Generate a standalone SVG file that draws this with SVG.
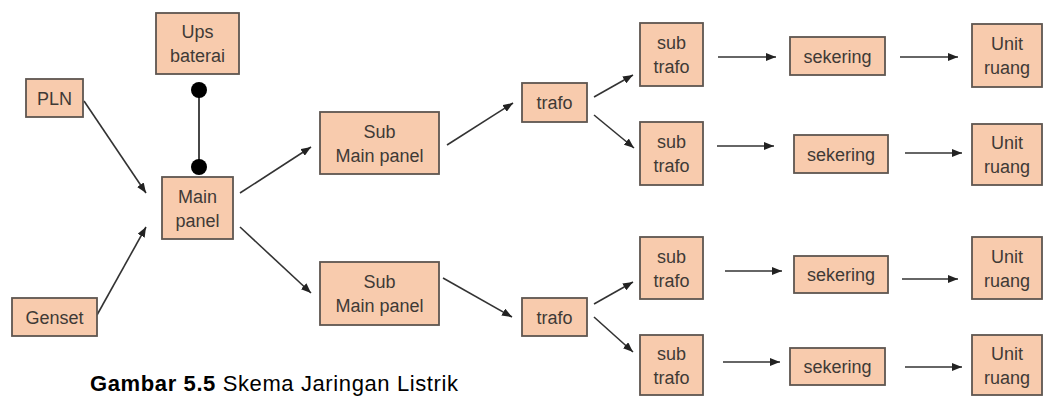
<svg xmlns="http://www.w3.org/2000/svg" width="1044" height="397" viewBox="0 0 1044 397">
<style>
.box{fill:#F8CBAD;stroke:#5E5650;stroke-width:1.8}
.t{font-family:"Liberation Sans",Arial,sans-serif;font-size:18px;fill:#3F3A36;text-anchor:middle}
.c{stroke:#333;stroke-width:1.6;fill:none;marker-end:url(#ah)}
.cap{font-family:"Liberation Sans",Arial,sans-serif;font-size:22px;fill:#000}
</style>
<defs>
<marker id="ah" markerUnits="userSpaceOnUse" markerWidth="11" markerHeight="8" refX="10" refY="4" orient="auto">
<path d="M0,0 L10,4 L0,8 z" fill="#222"/>
</marker>
</defs>
<rect width="1044" height="397" fill="#fff"/>
<g id="connectors">
<line class="c" x1="84" y1="101" x2="146" y2="193"/>
<line class="c" x1="97" y1="315" x2="146" y2="227"/>
<line class="c" x1="240" y1="193" x2="311" y2="147"/>
<line class="c" x1="240" y1="227" x2="311" y2="293"/>
<line class="c" x1="447" y1="145" x2="513" y2="103"/>
<line class="c" x1="443" y1="278" x2="512" y2="317"/>
<line class="c" x1="594" y1="97" x2="633" y2="75"/>
<line class="c" x1="594" y1="115" x2="634" y2="148"/>
<line class="c" x1="594" y1="304" x2="633" y2="282"/>
<line class="c" x1="594" y1="317" x2="633" y2="352"/>
<line class="c" x1="718" y1="57" x2="776" y2="57"/>
<line class="c" x1="900" y1="57" x2="958" y2="57"/>
<line class="c" x1="717" y1="146" x2="774" y2="146"/>
<line class="c" x1="905" y1="153" x2="962" y2="153"/>
<line class="c" x1="725" y1="271" x2="782" y2="271"/>
<line class="c" x1="902" y1="279" x2="958" y2="279"/>
<line class="c" x1="723" y1="362" x2="780" y2="362"/>
<line class="c" x1="905" y1="367" x2="962" y2="367"/>
<line x1="199" y1="90" x2="199" y2="167" stroke="#333" stroke-width="1.8"/>
<circle cx="199" cy="90" r="8" fill="#000"/>
<circle cx="199" cy="167" r="8" fill="#000"/>
</g>
<g id="ups"><rect class="box" x="156" y="13" width="83" height="61"/><text class="t" x="197.5" y="38">Ups</text><text class="t" x="197.5" y="62">baterai</text></g>
<g id="pln"><rect class="box" x="26" y="79" width="57" height="38"/><text class="t" x="54.5" y="104.5">PLN</text></g>
<g id="genset"><rect class="box" x="12" y="298" width="85" height="38"/><text class="t" x="54.5" y="323.5">Genset</text></g>
<g id="main"><rect class="box" x="162" y="177" width="71" height="62"/><text class="t" x="197.5" y="202.5">Main</text><text class="t" x="197.5" y="226.5">panel</text></g>
<g id="sub1"><rect class="box" x="320" y="112" width="119" height="62"/><text class="t" x="379.5" y="137.5">Sub</text><text class="t" x="379.5" y="161.5">Main panel</text></g>
<g id="sub2"><rect class="box" x="320" y="262" width="119" height="63"/><text class="t" x="379.5" y="288">Sub</text><text class="t" x="379.5" y="312">Main panel</text></g>
<g id="trafo1"><rect class="box" x="522" y="83" width="65" height="39"/><text class="t" x="554.5" y="109">trafo</text></g>
<g id="trafo2"><rect class="box" x="522" y="298" width="65" height="38"/><text class="t" x="554.5" y="323.5">trafo</text></g>
<g id="st1"><rect class="box" x="640" y="23" width="63" height="63"/><text class="t" x="671.5" y="49">sub</text><text class="t" x="671.5" y="73">trafo</text></g>
<g id="st2"><rect class="box" x="640" y="122" width="63" height="63"/><text class="t" x="671.5" y="148">sub</text><text class="t" x="671.5" y="172">trafo</text></g>
<g id="st3"><rect class="box" x="640" y="237" width="63" height="62"/><text class="t" x="671.5" y="262.5">sub</text><text class="t" x="671.5" y="286.5">trafo</text></g>
<g id="st4"><rect class="box" x="640" y="335" width="63" height="60"/><text class="t" x="671.5" y="359.5">sub</text><text class="t" x="671.5" y="383.5">trafo</text></g>
<g id="sk1"><rect class="box" x="790" y="37" width="95" height="38"/><text class="t" x="837.5" y="62.5">sekering</text></g>
<g id="sk2"><rect class="box" x="794" y="135" width="94" height="38"/><text class="t" x="841" y="160.5">sekering</text></g>
<g id="sk3"><rect class="box" x="794" y="256" width="94" height="37"/><text class="t" x="841" y="281">sekering</text></g>
<g id="sk4"><rect class="box" x="790" y="348" width="95" height="37"/><text class="t" x="837.5" y="373">sekering</text></g>
<g id="ur1"><rect class="box" x="972" y="24" width="70" height="63"/><text class="t" x="1007" y="50">Unit</text><text class="t" x="1007" y="74">ruang</text></g>
<g id="ur2"><rect class="box" x="972" y="124" width="70" height="61"/><text class="t" x="1007" y="149">Unit</text><text class="t" x="1007" y="173">ruang</text></g>
<g id="ur3"><rect class="box" x="972" y="237" width="70" height="62"/><text class="t" x="1007" y="262.5">Unit</text><text class="t" x="1007" y="286.5">ruang</text></g>
<g id="ur4"><rect class="box" x="972" y="335" width="70" height="60"/><text class="t" x="1007" y="359.5">Unit</text><text class="t" x="1007" y="383.5">ruang</text></g>
<text class="cap" x="90" y="391" textLength="368" lengthAdjust="spacing"><tspan font-weight="bold">Gambar 5.5</tspan> Skema Jaringan Listrik</text>
</svg>
